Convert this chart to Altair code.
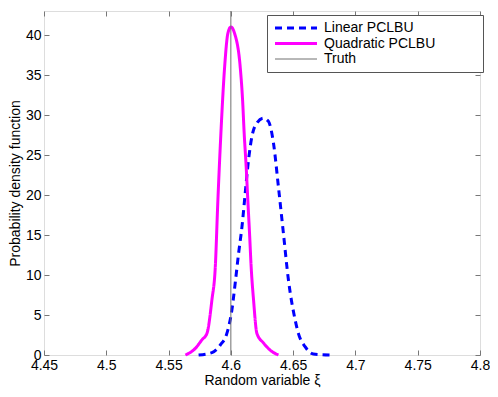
import altair as alt
import pandas as pd

lin_x = [4.5741, 4.5848, 4.5915, 4.5968, 4.6008, 4.6035, 4.6062, 4.6089, 4.6115, 4.6142,
         4.6169, 4.6209, 4.6262, 4.6302, 4.6342, 4.6382, 4.6422, 4.6462, 4.6516, 4.6542,
         4.6596, 4.6662, 4.6809]
lin_y = [0, 0.3, 1.25, 2.7, 5.6, 9.0, 12.7, 16.0, 20.2, 24.4,
         27.3, 29.0, 29.6, 29.2, 26.5, 21.0, 15.2, 9.4, 4.4, 2.7,
         1.04, 0.12, 0]

quad_x = [4.5635, 4.5715, 4.5768, 4.5808, 4.5848, 4.5875, 4.5896, 4.592, 4.595, 4.5976,
          4.600, 4.603, 4.6075, 4.6094, 4.6107, 4.6123, 4.6136, 4.615, 4.6163, 4.6182,
          4.6209, 4.6262, 4.6316, 4.6382]
quad_y = [0, 0.83, 1.9, 2.7, 6.9, 11.0, 19.4, 27.7, 36.0, 40.2,
          41.0, 40.2, 36.0, 31.9, 27.7, 23.5, 19.4, 15.2, 11.0, 6.9,
          2.7, 1.5, 0.6, 0]

truth_x = [4.6]

series_names = ["Linear PCLBU", "Quadratic PCLBU", "Truth"]
series_colors = ["#0000ff", "#ff00ff", "#707070"]
series_dash = [[7, 5], [1, 0], [1, 0]]

x_ticks = [4.45, 4.5, 4.55, 4.6, 4.65, 4.7, 4.75, 4.8]
y_ticks = [0, 5, 10, 15, 20, 25, 30, 35, 40]
x_domain = [4.45, 4.8]
y_domain = [0, 43]

rows = []
for xv, yv in zip(lin_x, lin_y):
    rows.append({"x": xv, "y": yv, "series": series_names[0]})
for xv, yv in zip(quad_x, quad_y):
    rows.append({"x": xv, "y": yv, "series": series_names[1]})
curves = pd.DataFrame(rows)
truth = pd.DataFrame({"x": truth_x, "series": [series_names[2]]})

FONT = "Liberation Sans"
frame = "#777777"

xs = alt.Scale(domain=x_domain, nice=False, zero=False)
ys = alt.Scale(domain=y_domain, nice=False)

color = alt.Color("series:N", title=None,
                  scale=alt.Scale(domain=series_names, range=series_colors),
                  legend=alt.Legend(
                      orient="none", legendX=223, legendY=4,
                      symbolType="M -0.714 0 L 5.286 0 M 27.2 0", symbolSize=196,
                      symbolStrokeWidth={"expr": "datum.value === 'Truth' ? 1 : 3"},
                      labelFont=FONT, labelFontSize=14, labelColor="black",
                      labelOffset=37, padding=6, rowPadding=1.5,
                      fillColor="white", strokeColor="#555555"))
dash = alt.StrokeDash("series:N", title=None,
                      scale=alt.Scale(domain=series_names, range=series_dash))

lines = alt.Chart(curves).mark_line(interpolate="monotone", strokeWidth=3).encode(
    x=alt.X("x:Q", scale=xs, title="Random variable ξ",
            axis=alt.Axis(orient="bottom", values=x_ticks, format="~g", offset=-5,
                          tickSize=5, domain=False, grid=False, labelPadding=3,
                          tickColor=frame, labelFont=FONT, labelFontSize=14,
                          labelColor="black", titleFont=FONT, titleFontSize=14,
                          titleFontWeight="normal", titleColor="black",
                          titlePadding=1, labelFlush=False)),
    y=alt.Y("y:Q", scale=ys, title="Probability density function",
            axis=alt.Axis(orient="left", values=y_ticks, offset=-5, tickSize=5,
                          domain=False, grid=False, labelPadding=3,
                          tickColor=frame, labelFont=FONT, labelFontSize=14,
                          labelColor="black", titleFont=FONT, titleFontSize=14,
                          titleFontWeight="normal", titleColor="black",
                          titlePadding=3, labelFlush=False)),
    color=color,
    strokeDash=dash,
    order="x:Q",
)

rule = alt.Chart(truth).mark_rule(strokeWidth=1).encode(
    x=alt.X("x:Q", scale=xs, axis=None),
    color=alt.Color("series:N"),
    strokeDash=alt.StrokeDash("series:N"),
)

frame_axes = alt.Chart(curves).mark_point(opacity=0).encode(
    x=alt.X("x:Q", scale=xs,
            axis=alt.Axis(orient="top", values=x_ticks, offset=-5, tickSize=5,
                          domain=False, grid=False, labels=False, title=None,
                          tickColor=frame)),
    y=alt.Y("y:Q", scale=ys,
            axis=alt.Axis(orient="right", values=y_ticks, offset=-5, tickSize=5,
                          domain=False, grid=False, labels=False, title=None,
                          tickColor=frame)),
)

chart = alt.layer(lines, rule, frame_axes).resolve_axis(
    x="independent", y="independent"
).properties(
    width=436, height=344,
    autosize=alt.AutoSizeParams(type="none"),
    padding={"left": 36, "top": 3, "right": 10, "bottom": 33},
).configure_view(
    stroke=frame, strokeWidth=1.5, fill="white"
).configure(background="white")

chart.save("out.html", embed_options={"renderer": "svg", "actions": False})
